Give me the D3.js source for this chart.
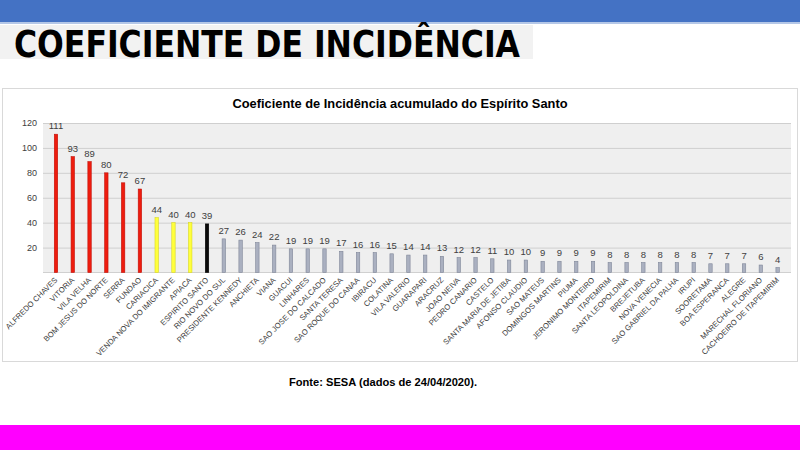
<!DOCTYPE html>
<html>
<head>
<meta charset="utf-8">
<script src="https://cdn.jsdelivr.net/npm/d3@7"></script>
<style>
  body { margin: 0; background: #fff; }
</style>
</head>
<body>
<svg id="chart" width="800" height="450"></svg>
<script>
// data
const municipios = [
  "ALFREDO CHAVES", "VITORIA", "VILA VELHA", "BOM JESUS DO NORTE", "SERRA", "FUNDAO",
  "CARIACICA", "VENDA NOVA DO IMIGRANTE", "APIACA", "ESPIRITO SANTO", "RIO NOVO DO SUL",
  "PRESIDENTE KENNEDY", "ANCHIETA", "VIANA", "GUACUI", "LINHARES", "SAO JOSE DO CALCADO",
  "SANTA TERESA", "SAO ROQUE DO CANAA", "IBIRACU", "COLATINA", "VILA VALERIO", "GUARAPARI",
  "ARACRUZ", "JOAO NEIVA", "PEDRO CANARIO", "CASTELO", "SANTA MARIA DE JETIBA",
  "AFONSO CLAUDIO", "SAO MATEUS", "DOMINGOS MARTINS", "PIUMA", "JERONIMO MONTEIRO",
  "ITAPEMIRIM", "SANTA LEOPOLDINA", "BREJETUBA", "NOVA VENECIA", "SAO GABRIEL DA PALHA",
  "IRUPI", "SOORETAMA", "BOA ESPERANCA", "ALEGRE", "MARECHAL FLORIANO", "CACHOEIRO DE ITAPEMIRIM"
];
const coeficientes = [
  111, 93, 89, 80, 72, 67,
  44, 40, 40, 39, 27,
  26, 24, 22, 19, 19, 19,
  17, 16, 16, 15, 14, 14,
  13, 12, 12, 11, 10,
  10, 9, 9, 9, 9,
  8, 8, 8, 8, 8,
  8, 7, 7, 7, 6, 4
];
// faixa de cada barra: a = alto, m = medio, e = estado, b = baixo
const faixas = [
  "a", "a", "a", "a", "a", "a",
  "m", "m", "m", "e", "b",
  "b", "b", "b", "b", "b", "b",
  "b", "b", "b", "b", "b", "b",
  "b", "b", "b", "b", "b",
  "b", "b", "b", "b", "b",
  "b", "b", "b", "b", "b",
  "b", "b", "b", "b", "b", "b"
];
const yTicks = [20, 40, 60, 80, 100, 120];

const data = municipios.map((m, i) => ({ nome: m, valor: coeficientes[i], faixa: faixas[i] }));

const fillCor = { a: "#ee1c0e", m: "#ffff3c", e: "#0a0a0a", b: "#aab0c0" };
const strokeCor = { a: "#c01008", m: "#d8d820", e: "#000000", b: "#7f8698" };

const svg = d3.select("#chart");

// faixas de cima e de baixo
svg.append("rect").attr("x", 0).attr("y", 0).attr("width", 800).attr("height", 22).attr("fill", "#4472c4");
svg.append("rect").attr("x", 0).attr("y", 22).attr("width", 800).attr("height", 2).attr("fill", "#b4c7e7");
svg.append("rect").attr("x", 0).attr("y", 425).attr("width", 800).attr("height", 25).attr("fill", "#ff00ff");

// titulo grande
svg.append("rect").attr("x", 0).attr("y", 25).attr("width", 533).attr("height", 34).attr("fill", "#f2f2f2");
svg.append("text")
  .attr("x", 14)
  .attr("y", 57)
  .attr("textLength", 506)
  .attr("lengthAdjust", "spacingAndGlyphs")
  .style("font-family", "'DejaVu Sans Condensed', 'DejaVu Sans', sans-serif")
  .style("font-weight", "bold")
  .style("font-size", "37px")
  .attr("fill", "#000")
  .text("COEFICIENTE DE INCIDÊNCIA");

// caixa do grafico
svg.append("rect")
  .attr("x", 2.5).attr("y", 88.5).attr("width", 795).attr("height", 273)
  .attr("fill", "#fff").attr("stroke", "#d9d9d9");

svg.append("text")
  .attr("x", 400)
  .attr("y", 108)
  .attr("text-anchor", "middle")
  .attr("textLength", 335)
  .attr("lengthAdjust", "spacingAndGlyphs")
  .style("font-family", "'Liberation Sans', Arial, sans-serif")
  .style("font-weight", "bold")
  .style("font-size", "13px")
  .attr("fill", "#000")
  .text("Coeficiente de Incidência acumulado do Espírito Santo");

const plot = { left: 43, right: 791, top: 123, bottom: 272.5 };

const x = d3.scaleBand().domain(municipios).range([47.6, 786]);
const y = d3.scaleLinear().domain([0, 120]).range([plot.bottom, plot.top]);

svg.append("rect")
  .attr("x", plot.left).attr("y", plot.top)
  .attr("width", plot.right - plot.left).attr("height", plot.bottom - plot.top)
  .attr("fill", "#efefef");

// grade e eixo y
const gy = svg.append("g")
  .attr("transform", `translate(${plot.left},0)`)
  .call(d3.axisLeft(y).tickValues(yTicks).tickSize(-(plot.right - plot.left)).tickPadding(6));
gy.select(".domain").remove();
gy.selectAll(".tick line").attr("stroke", "#cfcfcf");
gy.selectAll(".tick text")
  .style("font-family", "'Liberation Sans', Arial, sans-serif")
  .style("font-size", "9px")
  .attr("fill", "#404040");

svg.append("line")
  .attr("x1", plot.left).attr("x2", plot.right)
  .attr("y1", plot.bottom).attr("y2", plot.bottom)
  .attr("stroke", "#d0d0d0");

// barras
const barW = 3.4;
svg.append("g")
  .selectAll("rect")
  .data(data)
  .join("rect")
  .attr("x", (d) => x(d.nome) + x.bandwidth() / 2 - barW / 2)
  .attr("y", (d) => y(d.valor))
  .attr("width", barW)
  .attr("height", (d) => y(0) - y(d.valor))
  .attr("fill", (d) => fillCor[d.faixa])
  .attr("stroke", (d) => strokeCor[d.faixa])
  .attr("stroke-width", 0.6);

// rotulos de valor
svg.append("g")
  .selectAll("text")
  .data(data)
  .join("text")
  .attr("x", (d) => x(d.nome) + x.bandwidth() / 2)
  .attr("y", (d) => y(d.valor) - 5)
  .attr("text-anchor", "middle")
  .style("font-family", "'Liberation Sans', Arial, sans-serif")
  .style("font-size", "9.5px")
  .attr("fill", "#404040")
  .text((d) => d.valor);

// rotulos de categoria
svg.append("g")
  .selectAll("text")
  .data(data)
  .join("text")
  .attr("transform", (d) => `translate(${x(d.nome) + x.bandwidth() / 2 + 2},${plot.bottom + 8}) rotate(-45)`)
  .attr("text-anchor", "end")
  .style("font-family", "'Liberation Sans', Arial, sans-serif")
  .style("font-size", "7.7px")
  .attr("fill", "#3a3a3a")
  .text((d) => d.nome);

// fonte
svg.append("text")
  .attr("x", 383)
  .attr("y", 386)
  .attr("text-anchor", "middle")
  .attr("textLength", 188)
  .attr("lengthAdjust", "spacingAndGlyphs")
  .style("font-family", "'Liberation Sans', Arial, sans-serif")
  .style("font-weight", "bold")
  .style("font-size", "11px")
  .attr("fill", "#000")
  .text("Fonte: SESA (dados de 24/04/2020).");
</script>
</body>
</html>
